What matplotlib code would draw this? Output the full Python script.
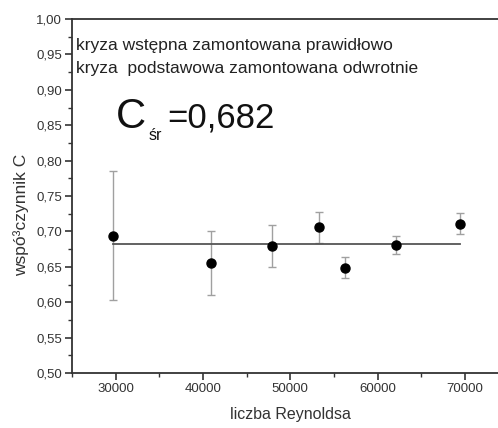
import matplotlib
matplotlib.use("Agg")
import matplotlib.pyplot as plt
from matplotlib.ticker import MultipleLocator, FuncFormatter
from matplotlib import font_manager

plt.rcParams['font.family'] = ['Liberation Sans', 'DejaVu Sans']
names = {f.name for f in font_manager.fontManager.ttflist}
narrow = 'Liberation Sans Narrow' if 'Liberation Sans Narrow' in names else None

reynolds = [29700, 40950, 47950, 53250, 56270, 62110, 69440]
coef = [0.694, 0.655, 0.679, 0.706, 0.649, 0.681, 0.711]
err_low = [0.603, 0.610, 0.650, 0.683, 0.634, 0.668, 0.697]
err_high = [0.785, 0.700, 0.709, 0.728, 0.664, 0.694, 0.726]
mean_c = 0.682
mean_x = [29700, 69440]

yerr = [[c - lo for c, lo in zip(coef, err_low)],
        [hi - c for c, hi in zip(coef, err_high)]]

fig = plt.figure(figsize=(4.98, 4.28), dpi=100)
ax = fig.add_axes([72/498, 55/428, 436.5/498, 354/428])

ax.errorbar(reynolds, coef, yerr=yerr, fmt='none', ecolor='#a0a0a0',
            elinewidth=1.0, capsize=3, capthick=1.0, zorder=2)
ax.plot(reynolds, coef, 'o', color='black', markersize=6.5, zorder=4)
ax.plot(mean_x, [mean_c, mean_c], '-', color='#555555', lw=1.3, zorder=3)

ax.set_xlim(25000, 75000)
ax.set_ylim(0.50, 1.00)
ax.xaxis.set_major_locator(MultipleLocator(10000))
ax.xaxis.set_minor_locator(MultipleLocator(5000))
ax.yaxis.set_major_locator(MultipleLocator(0.05))
ax.yaxis.set_minor_locator(MultipleLocator(0.025))
ax.yaxis.set_major_formatter(FuncFormatter(lambda v, p: f"{v:.2f}".replace('.', ',')))
ax.xaxis.set_major_formatter(FuncFormatter(lambda v, p: f"{int(round(v))}"))

for s in ['left', 'bottom', 'top']:
    ax.spines[s].set_color('#333333')
    ax.spines[s].set_linewidth(1.3)
ax.spines['right'].set_visible(False)

ax.tick_params(which='major', direction='out', length=5, width=1.2, color='#333333',
               labelsize=9.5, labelcolor='#333333', pad=2)
ax.tick_params(which='minor', direction='out', length=3, width=1.0, color='#333333')

ax.set_xlabel('liczba Reynoldsa', fontsize=11.5, color='#333333')
ax.set_ylabel('wspó³czynnik C', fontsize=12.5, color='#333333')
ax.xaxis.set_label_coords(0.4995, (373 - 407) / 354)
ax.yaxis.set_label_coords((29 - 72) / 436.5, (373 - 215) / 354)

fig.text(76/498, 1 - 50/428, 'kryza wstępna zamontowana prawidłowo', fontsize=12.5,
         color='#222222', va='baseline', ha='left')
fig.text(76/498, 1 - 72.5/428, 'kryza  podstawowa zamontowana odwrotnie', fontsize=12.5,
         color='#222222', va='baseline', ha='left')

if narrow:
    big_kw = dict(fontsize=30, family=[narrow, 'Liberation Sans'])
else:
    big_kw = dict(fontsize=25)
fig.text(116/498, 1 - 128/428, 'C', color='#111111', va='baseline', ha='left', fontsize=30)
fig.text(149/498, 1 - 140/428, 'śr', color='#111111', va='baseline', ha='left', fontsize=11.5)
fig.text(167/498, 1 - 128/428, '=0,682', color='#111111', va='baseline', ha='left', **big_kw)

fig.savefig('out.png', dpi=100)
